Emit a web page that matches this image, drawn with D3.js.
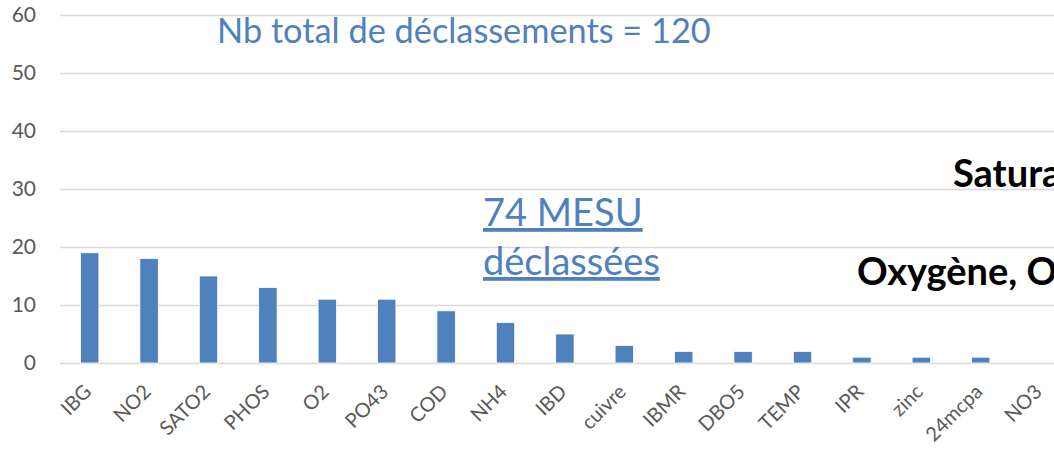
<!DOCTYPE html>
<html>
<head>
<meta charset="utf-8">
<script src="https://cdn.jsdelivr.net/npm/d3@7"></script>
<style>
  body { margin: 0; background: #fff; }
  svg { display: block; }
</style>
</head>
<body>
<div id="chart"></div>
<script>
const WIDTH = 1054
const HEIGHT = 451
const MARGIN = { TOP: 15, LEFT: 60, BOTTOM: 88 }

// parameters and number of downgrades
const categories = ["IBG", "NO2", "SATO2", "PHOS", "O2", "PO43", "COD", "NH4", "IBD",
    "cuivre", "IBMR", "DBO5", "TEMP", "IPR", "zinc", "24mcpa", "NO3"]
const counts = [19, 18, 15, 13, 11, 11, 9, 7, 5, 3, 2, 2, 2, 1, 1, 1, 0]
const yTicks = [0, 10, 20, 30, 40, 50, 60]

const BLUE = "#4f81bd"
const FONT = "Lato, 'Open Sans', sans-serif"

const svg = d3.select("#chart")
    .append("svg")
    .attr("width", WIDTH)
    .attr("height", HEIGHT)

const y = d3.scaleLinear()
    .domain([0, 60])
    .range([HEIGHT - MARGIN.BOTTOM, MARGIN.TOP])

const step = 59.4
const x = d3.scaleBand()
    .domain(categories)
    .range([MARGIN.LEFT, MARGIN.LEFT + step * categories.length])
    .paddingInner(0.69)
    .paddingOuter(0.345)

// y axis: gridlines + labels
const yAxis = svg.append("g")
    .attr("transform", `translate(${MARGIN.LEFT}, 0)`)
    .call(d3.axisLeft(y).tickValues(yTicks).tickSize(-(WIDTH - MARGIN.LEFT)).tickPadding(24))

yAxis.select(".domain").remove()
yAxis.selectAll(".tick line")
    .attr("stroke", "#d9d9d9")
    .attr("stroke-width", 1.5)
yAxis.selectAll(".tick text")
    .attr("fill", "#595959")
    .style("font-family", FONT)
    .style("font-size", "21px")

// bars
svg.selectAll("rect.bar")
    .data(counts)
    .enter().append("rect")
    .attr("class", "bar")
    .attr("x", (d, i) => x(categories[i]))
    .attr("y", d => y(d))
    .attr("width", x.bandwidth())
    .attr("height", d => y(0) - y(d))
    .attr("fill", BLUE)
    .attr("stroke", "#fff")
    .attr("stroke-width", 0.8)

// x labels, rotated
svg.append("g")
    .selectAll("text")
    .data(categories)
    .enter().append("text")
    .attr("transform", d => `translate(${x(d) + x.bandwidth() / 2 + 3}, ${y(0) + 30}) rotate(-45)`)
    .attr("text-anchor", "end")
    .attr("fill", "#595959")
    .style("font-family", FONT)
    .style("font-size", "20px")
    .text(d => d)

// annotations
svg.append("text")
    .attr("x", 217)
    .attr("y", 43)
    .attr("fill", BLUE)
    .style("font-family", FONT)
    .style("font-size", "34.3px")
    .text("Nb total de déclassements = 120")

const mesu = svg.append("text")
    .attr("fill", BLUE)
    .style("font-family", FONT)
    .style("font-size", "38px")
    .style("text-decoration", "underline")
mesu.append("tspan").attr("x", 483).attr("y", 226).text("74 MESU")
mesu.append("tspan").attr("x", 483).attr("y", 275).text("déclassées")

svg.append("text")
    .attr("x", 953)
    .attr("y", 187)
    .attr("fill", "#000")
    .style("font-family", FONT)
    .style("font-weight", "bold")
    .style("font-size", "38px")
    .text("Saturation")

svg.append("text")
    .attr("x", 857)
    .attr("y", 285)
    .attr("fill", "#000")
    .style("font-family", FONT)
    .style("font-weight", "bold")
    .style("font-size", "38px")
    .text("Oxygène, O2")
</script>
</body>
</html>
